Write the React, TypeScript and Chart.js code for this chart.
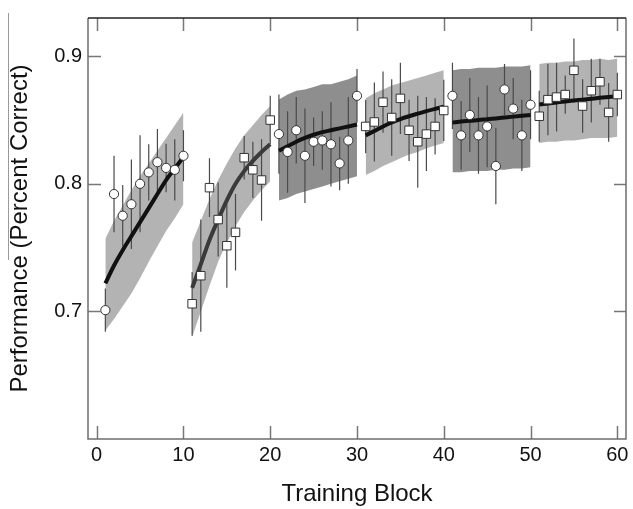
import React, { useEffect, useRef } from 'react';
import { Chart, registerables } from 'chart.js';

Chart.register(...registerables);

// ---- data ----
const BLOCKS = [
  1, 2, 3, 4, 5, 6, 7, 8, 9, 10,
  11, 12, 13, 14, 15, 16, 17, 18, 19, 20,
  21, 22, 23, 24, 25, 26, 27, 28, 29, 30,
  31, 32, 33, 34, 35, 36, 37, 38, 39, 40,
  41, 42, 43, 44, 45, 46, 47, 48, 49, 50,
  51, 52, 53, 54, 55, 56, 57, 58, 59, 60,
];

const PERFORMANCE = [
  0.701, 0.792, 0.775, 0.784, 0.800, 0.809, 0.817, 0.8125, 0.811, 0.822,
  0.706, 0.728, 0.797, 0.772, 0.7515, 0.762, 0.8205, 0.811, 0.803, 0.850,
  0.839, 0.825, 0.842, 0.822, 0.833, 0.834, 0.831, 0.816, 0.834, 0.869,
  0.845, 0.8485, 0.864, 0.852, 0.867, 0.842, 0.833, 0.839, 0.845, 0.8575,
  0.869, 0.838, 0.854, 0.838, 0.845, 0.814, 0.874, 0.859, 0.838, 0.862,
  0.853, 0.866, 0.868, 0.870, 0.889, 0.861, 0.873, 0.880, 0.856, 0.870,
];

const ERROR = [
  0.017, 0.030, 0.024, 0.035, 0.038, 0.022, 0.026, 0.019, 0.024, 0.020,
  0.025, 0.044, 0.023, 0.029, 0.033, 0.030, 0.017, 0.022, 0.032, 0.019,
  0.031, 0.032, 0.026, 0.037, 0.019, 0.023, 0.033, 0.021, 0.034, 0.021,
  0.021, 0.031, 0.024, 0.030, 0.028, 0.024, 0.036, 0.029, 0.022, 0.024,
  0.026, 0.027, 0.029, 0.030, 0.032, 0.030, 0.020, 0.024, 0.028, 0.027,
  0.020, 0.028, 0.027, 0.015, 0.025, 0.021, 0.025, 0.018, 0.023, 0.017,
];

const FIT = [
  0.722, 0.736, 0.748, 0.759, 0.770, 0.781, 0.792, 0.803, 0.812, 0.821,
  0.7185, 0.737, 0.756, 0.772, 0.787, 0.800, 0.810, 0.818, 0.825, 0.831,
  0.826, 0.8295, 0.833, 0.836, 0.8385, 0.8405, 0.842, 0.8435, 0.845, 0.8465,
  0.838, 0.8415, 0.845, 0.8482, 0.8508, 0.853, 0.855, 0.857, 0.8588, 0.8604,
  0.848, 0.8488, 0.8495, 0.850, 0.8507, 0.8513, 0.852, 0.8527, 0.8533, 0.854,
  0.8622, 0.863, 0.8638, 0.8646, 0.8653, 0.866, 0.8667, 0.8674, 0.868, 0.8686,
];

const BAND_UPPER = [
  0.757, 0.771, 0.783, 0.795, 0.806, 0.816, 0.826, 0.836, 0.846, 0.856,
  0.754, 0.771, 0.788, 0.803, 0.816, 0.828, 0.838, 0.846, 0.854, 0.861,
  0.866, 0.870, 0.873, 0.874, 0.876, 0.878, 0.878, 0.880, 0.882, 0.885,
  0.867, 0.871, 0.874, 0.877, 0.879, 0.881, 0.883, 0.885, 0.887, 0.889,
  0.889, 0.890, 0.890, 0.891, 0.891, 0.891, 0.892, 0.892, 0.892, 0.893,
  0.894, 0.895, 0.895, 0.896, 0.896, 0.897, 0.897, 0.898, 0.897, 0.898,
];

const BAND_LOWER = [
  0.685, 0.694, 0.704, 0.714, 0.726, 0.739, 0.751, 0.763, 0.773, 0.784,
  0.680, 0.700, 0.720, 0.739, 0.754, 0.767, 0.778, 0.787, 0.795, 0.802,
  0.787, 0.789, 0.792, 0.794, 0.796, 0.798, 0.800, 0.802, 0.804, 0.806,
  0.807, 0.810, 0.814, 0.817, 0.820, 0.823, 0.825, 0.828, 0.830, 0.832,
  0.809, 0.809, 0.810, 0.810, 0.810, 0.811, 0.811, 0.812, 0.812, 0.813,
  0.832, 0.833, 0.833, 0.834, 0.834, 0.835, 0.836, 0.836, 0.836, 0.837,
];

// segments: [first index, last index] into the arrays above
const SEGMENTS = [
  [0, 9], [10, 19], [20, 29], [30, 39], [40, 49], [50, 59],
];
const SEGMENT_MARKER = ['circle', 'rect', 'circle', 'rect', 'circle', 'rect'];
const SEGMENT_SHADE = ['light', 'light', 'dark', 'light', 'dark', 'light'];
const SEGMENT_LINE = ['#111111', '#3a3a3a', '#111111', '#111111', '#111111', '#111111'];

const X_TICKS = [0, 10, 20, 30, 40, 50, 60];
const Y_TICKS = [0.7, 0.8, 0.9];
const X_MIN = -1;
const X_MAX = 61;
const Y_MIN = 0.6;
const Y_MAX = 0.93;

const X_TITLE = 'Training Block';
const Y_TITLE = 'Performance (Percent Correct)';

// ---- styles ----
const SHADE_COLORS: Record<string, string> = { light: '#b3b3b3', dark: '#8e8e8e' };
const FONT = "'Liberation Sans', Arial, Helvetica, sans-serif";

const framePlugin = {
  id: 'frameTicks',
  afterDraw(chart: any) {
    const { ctx, chartArea, scales } = chart;
    const { left, right, top, bottom } = chartArea;
    ctx.save();
    // inward ticks
    ctx.strokeStyle = '#777777';
    ctx.lineWidth = 1.5;
    ctx.beginPath();
    X_TICKS.forEach((v) => {
      const px = Math.round(scales.x.getPixelForValue(v)) + 0.5;
      ctx.moveTo(px, bottom);
      ctx.lineTo(px, bottom - 13);
      ctx.moveTo(px, top);
      ctx.lineTo(px, top + 13);
    });
    Y_TICKS.forEach((v) => {
      const py = Math.round(scales.y.getPixelForValue(v)) + 0.5;
      ctx.moveTo(left, py);
      ctx.lineTo(left + 13, py);
      ctx.moveTo(right, py);
      ctx.lineTo(right - 12, py);
    });
    ctx.stroke();
    // frame
    ctx.lineWidth = 1.5;
    ctx.strokeStyle = '#6e6e6e';
    ctx.beginPath();
    ctx.moveTo(left, top);
    ctx.lineTo(left, bottom);
    ctx.lineTo(right, bottom);
    ctx.lineTo(right, top);
    ctx.stroke();
    ctx.strokeStyle = '#222222';
    ctx.beginPath();
    ctx.moveTo(left, top);
    ctx.lineTo(right, top);
    ctx.stroke();
    // scan artifact line left of the y title
    ctx.strokeStyle = '#9a9a9a';
    ctx.lineWidth = 1;
    ctx.beginPath();
    ctx.moveTo(8.5, 13);
    ctx.lineTo(8.5, 260);
    ctx.stroke();
    ctx.restore();
  },
};

export default function App() {
  const ref = useRef<HTMLCanvasElement | null>(null);

  useEffect(() => {
    if (!ref.current) return;
    const datasets: any[] = [];

    SEGMENTS.forEach(([a, b], s) => {
      const idx = [];
      for (let i = a; i <= b; i++) idx.push(i);
      const color = SHADE_COLORS[SEGMENT_SHADE[s]];
      datasets.push({
        type: 'line',
        data: idx.map((i) => ({ x: BLOCKS[i], y: BAND_LOWER[i] })),
        borderColor: 'rgba(0,0,0,0)',
        borderWidth: 0,
        pointRadius: 0,
        fill: false,
        order: 10,
      });
      datasets.push({
        type: 'line',
        data: idx.map((i) => ({ x: BLOCKS[i], y: BAND_UPPER[i] })),
        borderColor: 'rgba(0,0,0,0)',
        borderWidth: 0,
        backgroundColor: color,
        pointRadius: 0,
        fill: '-1',
        order: 10,
      });
    });

    // error bars
    const errData: any[] = [];
    BLOCKS.forEach((x, i) => {
      errData.push({ x, y: PERFORMANCE[i] - ERROR[i] });
      errData.push({ x, y: PERFORMANCE[i] + ERROR[i] });
      errData.push({ x, y: null });
    });
    datasets.push({
      type: 'line',
      data: errData,
      borderColor: '#4a4a4a',
      borderWidth: 1.2,
      pointRadius: 0,
      spanGaps: false,
      fill: false,
      order: 5,
    });

    SEGMENTS.forEach(([a, b], s) => {
      const idx = [];
      for (let i = a; i <= b; i++) idx.push(i);
      datasets.push({
        type: 'line',
        data: idx.map((i) => ({ x: BLOCKS[i], y: FIT[i] })),
        borderColor: SEGMENT_LINE[s],
        borderWidth: 4,
        pointRadius: 0,
        tension: 0.4,
        cubicInterpolationMode: 'monotone',
        fill: false,
        order: 2,
      });
    });

    SEGMENTS.forEach(([a, b], s) => {
      const idx = [];
      for (let i = a; i <= b; i++) idx.push(i);
      const isRect = SEGMENT_MARKER[s] === 'rect';
      datasets.push({
        type: 'line',
        data: idx.map((i) => ({ x: BLOCKS[i], y: PERFORMANCE[i] })),
        showLine: false,
        pointStyle: SEGMENT_MARKER[s],
        pointRadius: isRect ? 6 : 4.6,
        pointBackgroundColor: '#ffffff',
        pointBorderColor: '#333333',
        pointBorderWidth: 1,
        fill: false,
        order: 1,
      });
    });

    const chart = new Chart(ref.current, {
      type: 'line',
      data: { datasets },
      options: {
        animation: false,
        responsive: false,
        maintainAspectRatio: false,
        events: [],
        layout: { padding: { top: 12, right: 5, left: 0, bottom: 0 } },
        plugins: {
          legend: { display: false },
          tooltip: { enabled: false },
        },
        scales: {
          x: {
            type: 'linear',
            min: X_MIN,
            max: X_MAX,
            afterBuildTicks: (scale: any) => {
              scale.ticks = X_TICKS.map((v) => ({ value: v }));
            },
            afterFit: (scale: any) => {
              scale.height = 70;
            },
            grid: { display: true, drawOnChartArea: false, drawTicks: false },
            border: { display: false },
            ticks: {
              padding: 4,
              color: '#111111',
              font: { family: FONT, size: 20 },
              maxRotation: 0,
              callback: (v: any) => String(v),
            },
            title: {
              display: true,
              text: X_TITLE,
              color: '#111111',
              font: { family: FONT, size: 24 },
              padding: { top: 0, bottom: 0 },
            },
          },
          y: {
            type: 'linear',
            min: Y_MIN,
            max: Y_MAX,
            afterBuildTicks: (scale: any) => {
              scale.ticks = Y_TICKS.map((v) => ({ value: v }));
            },
            afterFit: (scale: any) => {
              scale.width = 88;
            },
            grid: { display: true, drawOnChartArea: false, drawTicks: false },
            border: { display: false },
            ticks: {
              padding: 6,
              color: '#111111',
              font: { family: FONT, size: 20 },
              callback: (v: any) => Number(v).toFixed(1),
            },
            title: {
              display: true,
              text: Y_TITLE,
              color: '#111111',
              font: { family: FONT, size: 24 },
              padding: { top: 6, bottom: 0 },
            },
          },
        },
      },
      plugins: [framePlugin],
    });

    return () => chart.destroy();
  }, []);

  return (
    <div style={{ position: 'absolute', left: 0, top: 0, width: 633, height: 509, background: '#ffffff' }}>
      <canvas ref={ref} width={633} height={509} />
    </div>
  );
}
